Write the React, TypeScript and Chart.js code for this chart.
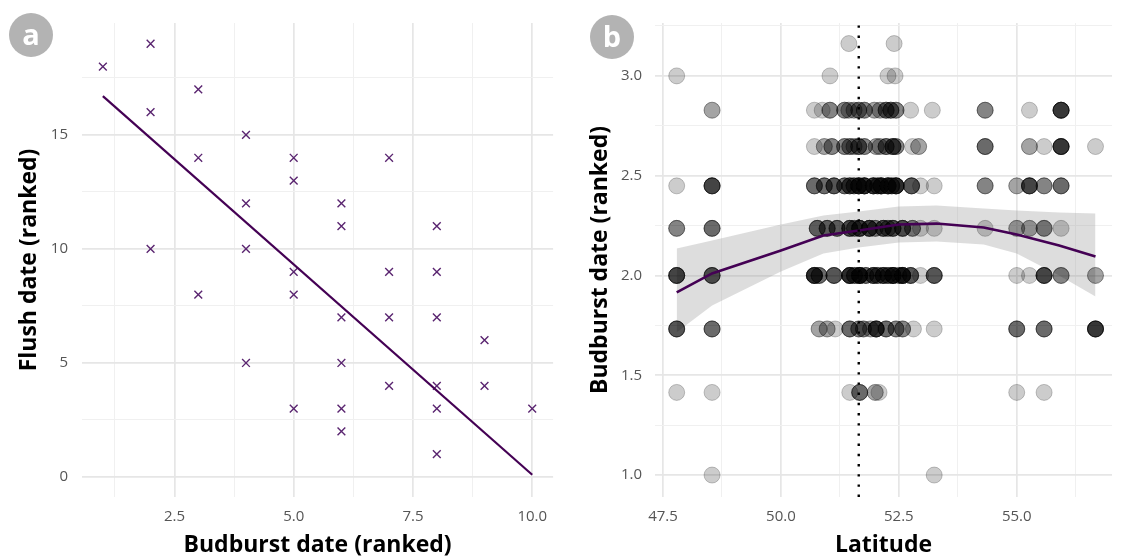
import React, { useEffect, useRef } from "react";
import { Chart, registerables } from "chart.js";

Chart.register(...registerables);

const FONT = "'Open Sans', 'Noto Sans', sans-serif";

// ---------- Panel a: flush vs budburst ----------
const budburstA = [1, 2, 2, 2, 3, 3, 3, 4, 4, 4, 4, 5, 5, 5, 5, 5, 6, 6, 6, 6, 6, 6, 7, 7, 7, 7, 8, 8, 8, 8, 8, 8, 9, 9, 10];
const flushA = [18, 19, 16, 10, 17, 14, 8, 15, 12, 10, 5, 14, 13, 9, 8, 3, 12, 11, 7, 5, 3, 2, 14, 9, 7, 4, 11, 9, 7, 4, 3, 1, 6, 4, 3];
const fitXA = [1, 10];
const fitYA = [16.7, 0.1];
const xMajorA = [2.5, 5, 7.5, 10];
const xLabelsA = ["2.5", "5.0", "7.5", "10.0"];
const xMinorA = [1.25, 3.75, 6.25, 8.75];
const yMajorA = [0, 5, 10, 15];
const yLabelsA = ["0", "5", "10", "15"];
const yMinorA = [2.5, 7.5, 12.5, 17.5];
const xRangeA = [0.5625, 10.4375];
const yRangeA = [-0.877, 19.91];

// ---------- Panel b: budburst vs latitude ----------
// each row: [latitude, number of overlapping observations]
const row316: [number, number][] = [[51.44, 1], [52.4, 1]];
const row300: [number, number][] = [[47.79, 1], [51.04, 1], [52.27, 1], [52.42, 1]];
const row283: [number, number][] = [[48.54, 2], [50.71, 1], [50.875, 1], [51.04, 3], [51.35, 3], [51.44, 2], [51.55, 2], [51.65, 3], [51.77, 3], [51.98, 2], [52.1, 2], [52.23, 4], [52.33, 4], [52.44, 3], [52.75, 1], [53.21, 1], [54.33, 3], [55.27, 1], [55.94, 7]];
const row265: [number, number][] = [[50.71, 1], [50.92, 2], [51.08, 3], [51.35, 3], [51.46, 3], [51.55, 2], [51.65, 4], [51.77, 3], [52.02, 2], [52.1, 2], [52.23, 4], [52.375, 5], [52.44, 3], [52.79, 1], [52.92, 2], [54.33, 4], [55.27, 2], [55.58, 1], [55.94, 7], [56.67, 1]];
const row245: [number, number][] = [[47.79, 1], [48.54, 6], [50.71, 4], [50.92, 4], [51.125, 5], [51.35, 4], [51.46, 5], [51.55, 4], [51.65, 8], [51.77, 8], [51.96, 7], [52.05, 4], [52.125, 8], [52.27, 8], [52.35, 4], [52.44, 8], [52.77, 5], [52.96, 1], [53.25, 1], [54.33, 3], [55.0, 2], [55.27, 6], [55.58, 3], [55.94, 4]];
const row224: [number, number][] = [[47.79, 3], [48.54, 4], [50.77, 4], [50.98, 4], [51.19, 4], [51.46, 5], [51.56, 3], [51.67, 6], [51.875, 6], [52.0, 3], [52.17, 5], [52.27, 3], [52.375, 5], [52.58, 5], [52.79, 3], [52.96, 1], [53.25, 1], [54.33, 1], [55.0, 2], [55.27, 2], [55.58, 3], [55.94, 1]];
const row200: [number, number][] = [[47.79, 6], [48.54, 5], [50.71, 8], [50.81, 4], [51.125, 5], [51.46, 8], [51.56, 4], [51.67, 10], [51.8, 4], [51.96, 6], [52.05, 4], [52.17, 6], [52.27, 4], [52.375, 9], [52.5, 3], [52.58, 9], [52.75, 5], [52.96, 1], [53.25, 5], [55.0, 1], [55.27, 1], [55.58, 6], [55.94, 3], [56.67, 2]];
const row173: [number, number][] = [[47.79, 5], [48.54, 4], [50.81, 2], [50.98, 2], [51.15, 1], [51.46, 4], [51.65, 3], [51.75, 3], [51.9, 2], [52.02, 7], [52.23, 4], [52.44, 3], [52.58, 3], [52.81, 1], [53.25, 1], [55.0, 4], [55.58, 4], [56.67, 7]];
const row141: [number, number][] = [[47.79, 1], [48.54, 1], [51.46, 1], [51.67, 4], [52.0, 2], [52.08, 1], [55.0, 1], [55.58, 1]];
const row100: [number, number][] = [[48.54, 1], [53.25, 1]];
const rowValues = [3.162, 3.0, 2.828, 2.646, 2.449, 2.236, 2.0, 1.732, 1.414, 1.0];
const rowPoints = [row316, row300, row283, row265, row245, row224, row200, row173, row141, row100];

const smoothLat = [47.79, 48.54, 50.0, 50.9, 51.65, 52.5, 53.3, 54.3, 55.0, 55.9, 56.67];
const smoothFit = [1.915, 2.01, 2.125, 2.2, 2.225, 2.255, 2.26, 2.24, 2.205, 2.15, 2.095];
const smoothUpper = [2.135, 2.175, 2.255, 2.3, 2.32, 2.345, 2.35, 2.335, 2.325, 2.315, 2.31];
const smoothLower = [1.715, 1.85, 2.02, 2.11, 2.14, 2.165, 2.17, 2.155, 2.11, 2.0, 1.895];
const refLatitude = 51.65;

const xMajorB = [47.5, 50, 52.5, 55];
const xLabelsB = ["47.5", "50.0", "52.5", "55.0"];
const xMinorB = [48.75, 51.25, 53.75, 56.25];
const yMajorB = [1, 1.5, 2, 2.5, 3];
const yLabelsB = ["1.0", "1.5", "2.0", "2.5", "3.0"];
const yMinorB = [1.25, 1.75, 2.25, 2.75, 3.25];
const xRangeB = [47.33, 57.02];
const yRangeB = [0.89, 3.265];

function isIn(list: number[], v: number) {
  return list.some((m) => Math.abs(m - v) < 1e-9);
}

function makeAxis(opts: {
  major: number[];
  labels: string[];
  minor: number[];
  range: number[];
  title: string;
  titlePad: any;
  tickPad: number;
  size: number;
  horizontal: boolean;
}) {
  const { major, labels, minor, range, title, titlePad, tickPad, size, horizontal } = opts;
  return {
    type: "linear",
    min: range[0],
    max: range[1],
    afterBuildTicks: (s: any) => {
      s.ticks = [...major, ...minor].sort((a, b) => a - b).map((v) => ({ value: v }));
    },
    afterFit: (s: any) => {
      if (horizontal) s.height = size;
      else s.width = size;
    },
    grid: {
      drawTicks: false,
      color: (ctx: any) => (ctx.tick && isIn(major, ctx.tick.value) ? "#e6e6e6" : "#f0f0f0"),
      lineWidth: (ctx: any) => (ctx.tick && isIn(major, ctx.tick.value) ? 1.7 : 1),
    },
    border: { display: false },
    ticks: {
      autoSkip: false,
      maxRotation: 0,
      minRotation: 0,
      padding: tickPad,
      color: "#555555",
      font: { family: FONT, size: 15 },
      callback: (v: any) => {
        const i = major.findIndex((m) => Math.abs(m - Number(v)) < 1e-9);
        return i >= 0 ? labels[i] : "";
      },
    },
    title: {
      display: true,
      text: title,
      color: "#000000",
      font: { family: FONT, size: 23, weight: "bold", lineHeight: 1 },
      padding: titlePad,
    },
  };
}

function PanelA() {
  const ref = useRef<HTMLCanvasElement>(null);
  useEffect(() => {
    if (!ref.current) return;
    const chart = new Chart(ref.current, {
      type: "scatter",
      data: {
        datasets: [
          {
            data: fitXA.map((x, i) => ({ x, y: fitYA[i] })),
            showLine: true,
            pointRadius: 0,
            borderColor: "#440154",
            borderWidth: 2.2,
            order: 0,
          } as any,
          {
            data: budburstA.map((x, i) => ({ x, y: flushA[i] })),
            pointStyle: "crossRot",
            pointRadius: 5.5,
            borderColor: "#5a2570",
            borderWidth: 1.4,
            order: 1,
          } as any,
        ],
      },
      options: {
        responsive: false,
        animation: false,
        layout: { padding: { left: 0, right: 4, top: 23, bottom: 0 } },
        plugins: { legend: { display: false }, tooltip: { enabled: false } },
        scales: {
          x: makeAxis({
            major: xMajorA, labels: xLabelsA, minor: xMinorA, range: xRangeA,
            title: "Budburst date (ranked)", titlePad: { top: 0.5, bottom: 0 }, tickPad: 11, size: 60, horizontal: true,
          }) as any,
          y: makeAxis({
            major: yMajorA, labels: yLabelsA, minor: yMinorA, range: yRangeA,
            title: "Flush date (ranked)", titlePad: { top: 17.5, bottom: 0 }, tickPad: 14, size: 82, horizontal: false,
          }) as any,
        },
      },
    });
    return () => chart.destroy();
  }, []);
  return <canvas ref={ref} width={560} height={557} style={{ position: "absolute", left: 0, top: 0, width: 560, height: 557 }} />;
}

function PanelB() {
  const ref = useRef<HTMLCanvasElement>(null);
  useEffect(() => {
    if (!ref.current) return;
    const pts: { x: number; y: number }[] = [];
    rowPoints.forEach((row, r) => {
      row.forEach(([lat, n]) => {
        for (let k = 0; k < n; k++) pts.push({ x: lat, y: rowValues[r] });
      });
    });
    const chart = new Chart(ref.current, {
      type: "scatter",
      data: {
        datasets: [
          {
            data: smoothLat.map((x, i) => ({ x, y: smoothUpper[i] })),
            showLine: true,
            pointRadius: 0,
            borderColor: "rgba(0,0,0,0)",
            borderWidth: 0,
            fill: false,
            order: 4,
          } as any,
          {
            data: smoothLat.map((x, i) => ({ x, y: smoothLower[i] })),
            showLine: true,
            pointRadius: 0,
            borderColor: "rgba(0,0,0,0)",
            borderWidth: 0,
            fill: "-1",
            backgroundColor: "rgba(153,153,153,0.33)",
            order: 3,
          } as any,
          {
            data: pts,
            pointRadius: 8,
            pointStyle: "circle",
            backgroundColor: "rgba(0,0,0,0.2)",
            borderColor: "rgba(0,0,0,0.22)",
            borderWidth: 1,
            order: 2,
          } as any,
          {
            data: smoothLat.map((x, i) => ({ x, y: smoothFit[i] })),
            showLine: true,
            pointRadius: 0,
            borderColor: "#440154",
            borderWidth: 2.6,
            order: 1,
          } as any,
          {
            data: [
              { x: refLatitude, y: yRangeB[0] },
              { x: refLatitude, y: yRangeB[1] },
            ],
            showLine: true,
            pointRadius: 0,
            borderColor: "#000000",
            borderWidth: 2.4,
            borderDash: [2.4, 7.8],
            borderCapStyle: "butt",
            order: 0,
          } as any,
        ],
      },
      options: {
        responsive: false,
        animation: false,
        layout: { padding: { left: 0, right: 1, top: 23, bottom: 0 } },
        plugins: { legend: { display: false }, tooltip: { enabled: false } },
        scales: {
          x: makeAxis({
            major: xMajorB, labels: xLabelsB, minor: xMinorB, range: xRangeB,
            title: "Latitude", titlePad: { top: 0.5, bottom: 0 }, tickPad: 11, size: 60, horizontal: true,
          }) as any,
          y: makeAxis({
            major: yMajorB, labels: yLabelsB, minor: yMinorB, range: yRangeB,
            title: "Budburst date (ranked)", titlePad: { top: 28.5, bottom: 0 }, tickPad: 13, size: 95, horizontal: false,
          }) as any,
        },
      },
    });
    return () => chart.destroy();
  }, []);
  return <canvas ref={ref} width={561} height={557} style={{ position: "absolute", left: 560, top: 0, width: 561, height: 557 }} />;
}

function Badge({ letter, cx, cy }: { letter: string; cx: number; cy: number }) {
  return (
    <div
      style={{
        position: "absolute",
        left: cx - 22,
        top: cy - 22,
        width: 44,
        height: 44,
        borderRadius: "50%",
        background: "#b3b3b3",
        color: "#ffffff",
        fontFamily: FONT,
        fontWeight: 700,
        fontSize: 29,
        lineHeight: "42px",
        textAlign: "center",
      }}
    >
      {letter}
    </div>
  );
}

export default function App() {
  return (
    <div style={{ position: "fixed", left: 0, top: 0, width: 1121, height: 557, background: "#ffffff", overflow: "hidden" }}>
      <PanelA />
      <PanelB />
      <Badge letter="a" cx={31} cy={35} />
      <Badge letter="b" cx={612} cy={37} />
    </div>
  );
}
